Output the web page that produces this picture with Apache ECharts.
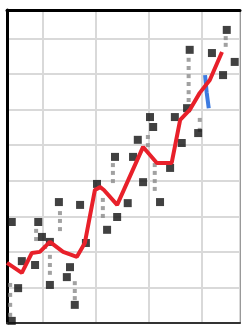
<!DOCTYPE html>
<html>
<head>
<meta charset="utf-8">
<script src="https://cdn.jsdelivr.net/npm/echarts/dist/echarts.min.js"></script>
<style>
  html, body { margin: 0; padding: 0; background: #fff; }
  #main { width: 244px; height: 327px; }
</style>
</head>
<body>
<div id="main"></div>
<script>
// red trend line (x, y)
var trendLine = [
  [-0.68, 1.69], [-0.40, 1.41], [-0.21, 1.97], [-0.06, 2.00], [0.13, 2.28],
  [0.38, 2.00], [0.64, 1.86], [0.79, 2.25], [0.98, 3.74], [1.08, 3.82],
  [1.15, 3.74], [1.40, 3.32], [1.89, 4.95], [2.15, 4.50], [2.43, 4.50],
  [2.59, 5.71], [2.77, 5.99], [2.96, 6.47], [3.15, 6.83], [3.38, 7.62]
]
// short blue segment
var blueLine = [[3.06, 6.97], [3.09, 6.49], [3.13, 6.04]]
// black squares
var blackPoints = [
  [-0.59, 2.84], [-0.59, 0.06], [-0.47, 0.98], [-0.40, 1.74], [-0.15, 1.63],
  [-0.09, 2.84], [-0.02, 2.42], [0.13, 2.28], [0.13, 1.07], [0.30, 3.40],
  [0.45, 1.29], [0.51, 1.57], [0.70, 3.32], [0.60, 0.51], [0.81, 2.25],
  [1.02, 3.91], [1.21, 2.62], [1.40, 2.98], [1.36, 4.67], [1.60, 3.37],
  [1.70, 4.67], [1.79, 5.15], [1.89, 3.96], [2.02, 5.79], [2.08, 5.51],
  [2.21, 3.40], [2.40, 4.36], [2.49, 5.79], [2.62, 5.06], [2.72, 6.04],
  [2.77, 7.68], [2.93, 5.34], [3.19, 7.59], [3.40, 6.97], [3.47, 8.24],
  [3.62, 7.34]
]
// small grey dots in columns
var greyPoints = [
  [-0.62, 1.07], [-0.62, 0.79], [-0.62, 0.51], [-0.62, 0.23],
  [-0.13, 2.59], [-0.13, 2.36], [0.04, 2.14], [0.13, 1.86], [0.13, 1.63], [0.13, 1.41],
  [0.32, 3.09], [0.32, 2.87], [0.32, 2.64],
  [0.60, 1.12], [0.60, 0.90], [0.60, 0.70],
  [1.13, 3.46], [1.13, 3.23], [1.13, 3.01],
  [1.32, 4.44], [1.32, 4.22], [1.32, 3.99],
  [2.11, 4.44], [2.11, 4.22], [2.11, 3.99], [2.11, 3.77],
  [1.98, 5.23], [1.98, 5.00],
  [2.75, 7.40], [2.75, 7.17], [2.75, 6.94], [2.75, 6.72], [2.75, 6.49], [2.75, 6.27],
  [3.45, 8.01], [3.45, 7.82],
  [2.96, 5.71], [2.96, 5.43]
]

var chart = echarts.init(document.getElementById('main'))
var hidden = { show: false }
chart.setOption({
  animation: false,
  grid: { left: 7, right: 4, top: 10, bottom: 4 },
  xAxis: [{
    type: 'value',
    min: -0.68,
    max: 3.72,
    splitNumber: 4,
    axisLabel: hidden,
    axisTick: hidden,
    axisLine: { show: true, onZero: false, lineStyle: { color: '#333', width: 2 } },
    splitLine: { show: true, lineStyle: { color: '#d9d9d9', width: 2 } }
  }, {
    type: 'value',
    position: 'top',
    min: -0.68,
    max: 3.72,
    axisLabel: hidden,
    axisTick: hidden,
    splitLine: hidden,
    axisLine: { show: true, onZero: false, lineStyle: { color: '#000', width: 3 } }
  }],
  yAxis: [{
    type: 'value',
    min: 0,
    max: 8.8,
    interval: 1,
    axisLabel: hidden,
    axisTick: hidden,
    axisLine: { show: true, onZero: false, lineStyle: { color: '#000', width: 3 } },
    splitLine: { show: true, lineStyle: { color: '#d9d9d9', width: 2 } }
  }, {
    type: 'value',
    position: 'right',
    min: 0,
    max: 8.8,
    axisLabel: hidden,
    axisTick: hidden,
    splitLine: hidden,
    axisLine: { show: true, onZero: false, lineStyle: { color: '#999', width: 1 } }
  }],
  series: [{
    type: 'scatter',
    data: greyPoints,
    symbol: 'rect',
    symbolSize: 4,
    itemStyle: { color: '#8a8a8a' }
  }, {
    type: 'scatter',
    data: blackPoints,
    symbol: 'rect',
    symbolSize: 8,
    itemStyle: { color: '#111' }
  }, {
    type: 'line',
    data: blueLine,
    showSymbol: false,
    lineStyle: { color: '#3d7be0', width: 4 }
  }, {
    type: 'line',
    data: trendLine,
    showSymbol: false,
    lineStyle: { color: '#e8202a', width: 4 }
  }]
})
</script>
</body>
</html>
